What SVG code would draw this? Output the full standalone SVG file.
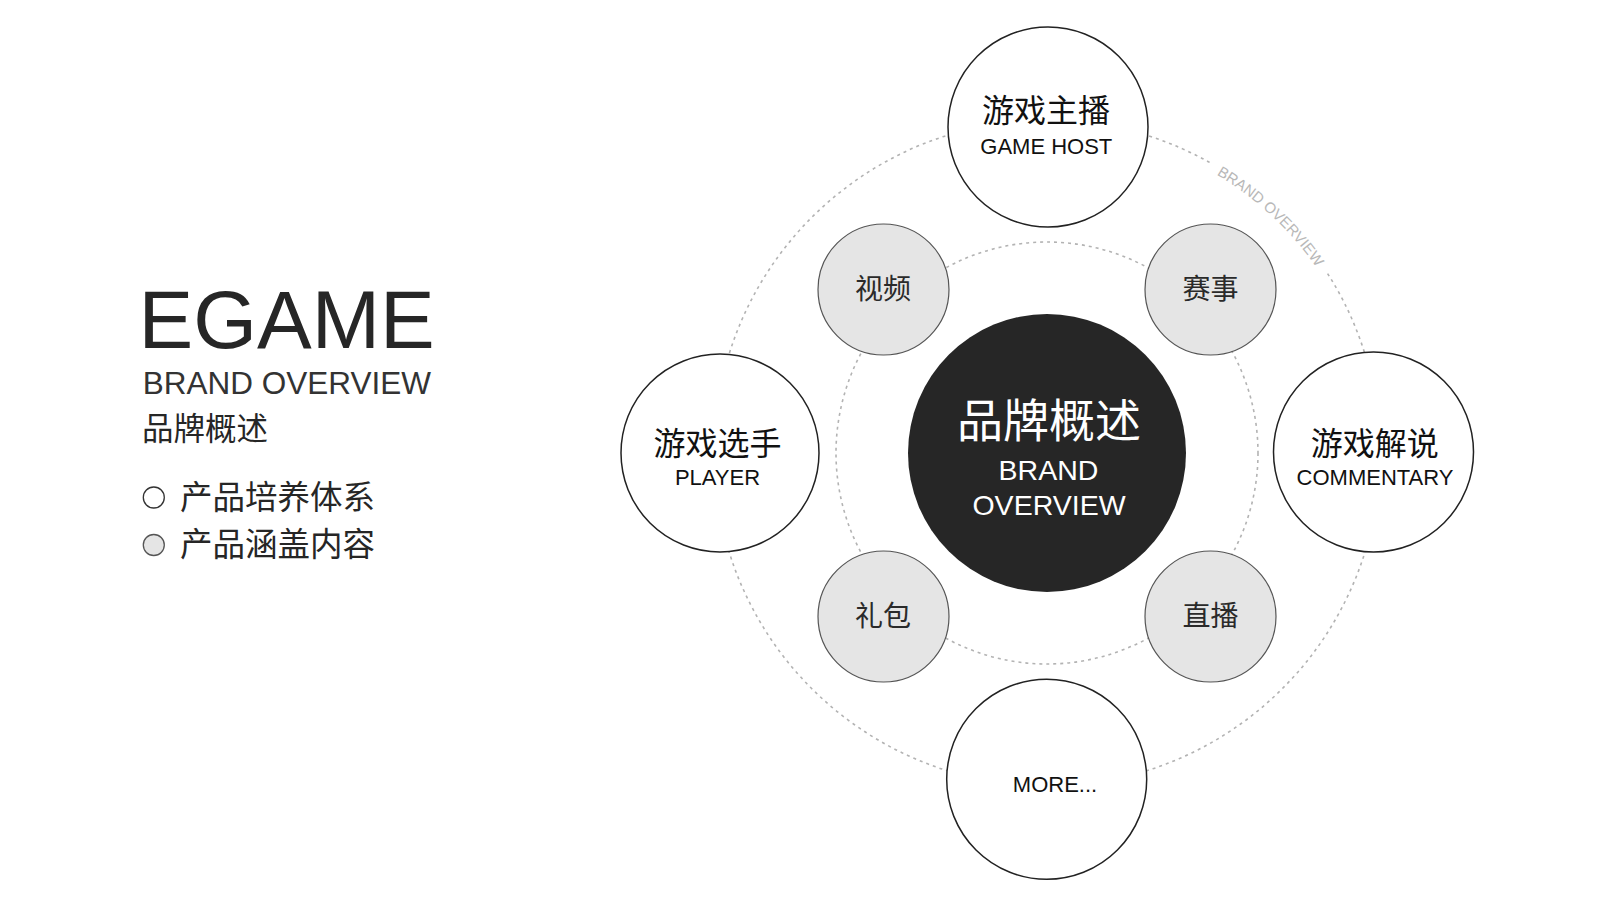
<svg xmlns="http://www.w3.org/2000/svg" width="1603" height="900" viewBox="0 0 1603 900">
<defs>
<style>
.t{font-family:"Liberation Sans","Noto Sans CJK SC",sans-serif;}
.ring{fill:none;stroke:#b3b3b3;stroke-width:1.6;stroke-dasharray:3 4;}
.wnode{fill:#ffffff;stroke:#222222;stroke-width:1.5;}
.gnode{fill:#e5e5e5;stroke:#555555;stroke-width:1.2;}
.cn{font-size:32px;fill:#111111;text-anchor:middle;}
.en{font-size:22px;fill:#111111;text-anchor:middle;}
.gt{font-size:28px;fill:#2a2a2a;text-anchor:middle;}
.leg{font-size:32.5px;fill:#262626;}
</style>
<path id="arcText" d="M 1216.5 174.5 A 328 328 0 0 1 1355.2 340.8"/>
</defs>
<rect x="0" y="0" width="1603" height="900" fill="#ffffff"/>

<g id="title">
<text class="t" x="138.5" y="348.3" font-size="82" fill="#262626">EGAME</text>
<text class="t" x="142.7" y="394" font-size="31.5" fill="#333333">BRAND OVERVIEW</text>
<text class="t" x="142" y="440" font-size="31.5" fill="#262626">品牌概述</text>
</g>

<g id="legend">
<circle cx="153.8" cy="497.5" r="10.5" fill="#ffffff" stroke="#333333" stroke-width="1.3"/>
<text class="t leg" x="180" y="509">产品培养体系</text>
<circle cx="153.8" cy="545" r="10.5" fill="#e5e5e5" stroke="#555555" stroke-width="1.3"/>
<text class="t leg" x="180" y="556">产品涵盖内容</text>
</g>

<g id="connectors">
<path class="ring" d="M 1327.6 273.6 A 333 333 0 1 1 1213 164.3"/>
<circle class="ring" cx="1047" cy="453" r="211"/>
<text class="t" font-size="15" fill="#b8b8b8"><textPath href="#arcText">BRAND OVERVIEW</textPath></text>
</g>

<g id="node-center">
<circle cx="1047" cy="453" r="139" fill="#262626"/>
<text class="t" x="1049" y="437" font-size="46" fill="#ffffff" text-anchor="middle">品牌概述</text>
<text class="t" x="1048.5" y="480" font-size="28.5" fill="#ffffff" text-anchor="middle">BRAND</text>
<text class="t" x="1049" y="515" font-size="28.5" fill="#ffffff" text-anchor="middle">OVERVIEW</text>
</g>

<g id="node-host">
<circle class="wnode" cx="1048" cy="127" r="100"/>
<text class="t cn" x="1046" y="122">游戏主播</text>
<text class="t en" x="1046.3" y="153.5">GAME HOST</text>
</g>

<g id="node-player">
<circle class="wnode" cx="720" cy="453" r="99"/>
<text class="t cn" x="717.5" y="455">游戏选手</text>
<text class="t en" x="717.5" y="484.5">PLAYER</text>
</g>

<g id="node-commentary">
<circle class="wnode" cx="1373.5" cy="452" r="100"/>
<text class="t cn" x="1374.7" y="455">游戏解说</text>
<text class="t en" x="1375" y="484.5">COMMENTARY</text>
</g>

<g id="node-more">
<circle class="wnode" cx="1046.7" cy="779.3" r="100"/>
<text class="t en" x="1055" y="792">MORE...</text>
</g>

<g id="node-video">
<circle class="gnode" cx="883.5" cy="289.5" r="65.5"/>
<text class="t gt" x="883" y="299">视频</text>
</g>

<g id="node-match">
<circle class="gnode" cx="1210.5" cy="289.5" r="65.5"/>
<text class="t gt" x="1210.5" y="299">赛事</text>
</g>

<g id="node-gift">
<circle class="gnode" cx="883.5" cy="616.5" r="65.5"/>
<text class="t gt" x="883" y="626">礼包</text>
</g>

<g id="node-live">
<circle class="gnode" cx="1210.5" cy="616.5" r="65.5"/>
<text class="t gt" x="1210.5" y="626">直播</text>
</g>
</svg>
